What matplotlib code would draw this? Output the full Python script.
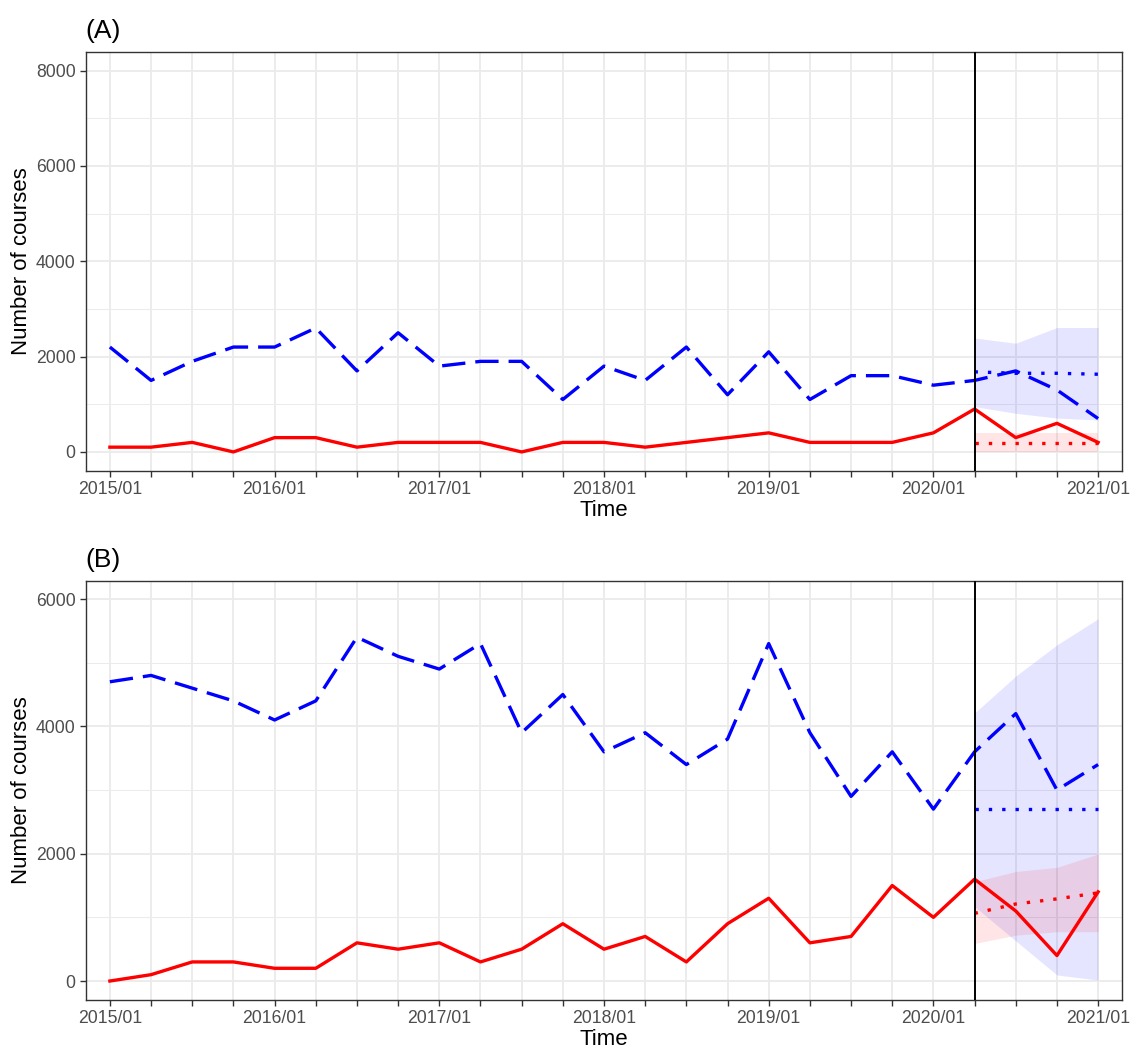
import matplotlib
matplotlib.use("Agg")
import matplotlib.pyplot as plt
import numpy as np

plt.rcParams['font.family'] = ['Liberation Sans', 'DejaVu Sans']

quarters = [f"{y}/{m:02d}" for y in range(2015, 2021) for m in (1, 4, 7, 10)] + ["2021/01"]
fc_quarters = ["2020/04", "2020/07", "2020/10", "2021/01"]
cut_quarter = "2020/04"

# Panel A
a_blue = [2200, 1500, 1900, 2200, 2200, 2600, 1700, 2500, 1800, 1900, 1900, 1100,
          1800, 1500, 2200, 1200, 2100, 1100, 1600, 1600, 1400, 1500, 1700, 1300, 700]
a_red = [100, 100, 200, 0, 300, 300, 100, 200, 200, 200, 0, 200,
         200, 100, 200, 300, 400, 200, 200, 200, 400, 900, 300, 600, 200]
a_blue_fc = [1680, 1650, 1650, 1630]
a_blue_lo = [950, 810, 710, 670]
a_blue_hi = [2390, 2280, 2610, 2610]
a_red_fc = [190, 190, 190, 190]
a_red_lo = [0, 0, 0, 0]
a_red_hi = [400, 400, 400, 400]

# Panel B
b_blue = [4700, 4800, 4600, 4400, 4100, 4400, 5400, 5100, 4900, 5300, 3900, 4500,
          3600, 3900, 3400, 3800, 5300, 3900, 2900, 3600, 2700, 3600, 4200, 3000, 3400]
b_red = [0, 100, 300, 300, 200, 200, 600, 500, 600, 300, 500, 900,
         500, 700, 300, 900, 1300, 600, 700, 1500, 1000, 1600, 1100, 400, 1400]
b_blue_fc = [2700, 2700, 2700, 2700]
b_blue_lo = [1170, 630, 95, 15]
b_blue_hi = [4210, 4790, 5280, 5690]
b_red_fc = [1063, 1210, 1290, 1385]
b_red_lo = [590, 720, 775, 775]
b_red_hi = [1560, 1720, 1785, 1995]

panels = [
    dict(title="(A)", blue=a_blue, red=a_red, bfc=a_blue_fc, blo=a_blue_lo, bhi=a_blue_hi,
         rfc=a_red_fc, rlo=a_red_lo, rhi=a_red_hi, ylim=(-400, 8400),
         major=[0, 2000, 4000, 6000, 8000], minor=[1000, 3000, 5000, 7000],
         rect=[86/1130, 1-471/1048, (1122-86)/1130, (471-51.5)/1048]),
    dict(title="(B)", blue=b_blue, red=b_red, bfc=b_blue_fc, blo=b_blue_lo, bhi=b_blue_hi,
         rfc=b_red_fc, rlo=b_red_lo, rhi=b_red_hi, ylim=(-298, 6283),
         major=[0, 2000, 4000, 6000], minor=[1000, 3000, 5000],
         rect=[86/1130, 1-1000/1048, (1122-86)/1130, (1000-581)/1048]),
]

fig = plt.figure(figsize=(11.3, 10.48), dpi=100)
x = np.arange(len(quarters))
xf = np.array([quarters.index(q) for q in fc_quarters])
xcut = quarters.index(cut_quarter)
LW = 2.4

for p in panels:
    ax = fig.add_axes(p["rect"])
    ax.set_xlim(-0.58, len(quarters) - 1 + 0.58)
    ax.set_ylim(*p["ylim"])
    for v in x:
        ax.axvline(v, color="#EBEBEB", lw=1.3, zorder=0)
    for v in p["major"]:
        ax.axhline(v, color="#EBEBEB", lw=1.3, zorder=0)
    for v in p["minor"]:
        ax.axhline(v, color="#EBEBEB", lw=0.7, zorder=0)
    ax.fill_between(xf, p["blo"], p["bhi"], color=(0, 0, 1), alpha=0.1, lw=0, zorder=1)
    ax.fill_between(xf, p["rlo"], p["rhi"], color=(1, 0, 0), alpha=0.1, lw=0, zorder=1)
    ax.plot(x, p["blue"], color="blue", lw=LW, dashes=(7, 3), zorder=3)
    ax.plot(x, p["red"], color="red", lw=LW, zorder=3)
    ax.plot(xf, p["bfc"], color="blue", lw=LW, dashes=(1, 3), zorder=3)
    ax.plot(xf, p["rfc"], color="red", lw=LW, dashes=(1, 3), zorder=3)
    ax.axvline(xcut, color="black", lw=1.4, zorder=4)

    ax.set_xticks(x)
    ax.set_xticklabels([q if q.endswith("/01") else "" for q in quarters])
    ax.set_yticks(p["major"])
    ax.tick_params(axis="both", colors="#333333", length=4.5, width=1.0,
                   labelsize=12.7, labelcolor="#4D4D4D", pad=3)
    for s in ax.spines.values():
        s.set_color("#333333")
        s.set_linewidth(1.0)
    ax.set_xlabel("Time", fontsize=16, labelpad=1)
    ax.set_ylabel("Number of courses", fontsize=16, labelpad=3)
    ax.set_title(p["title"], loc="left", fontsize=19, pad=10, x=-0.001)

fig.savefig("out.png", dpi=100)
